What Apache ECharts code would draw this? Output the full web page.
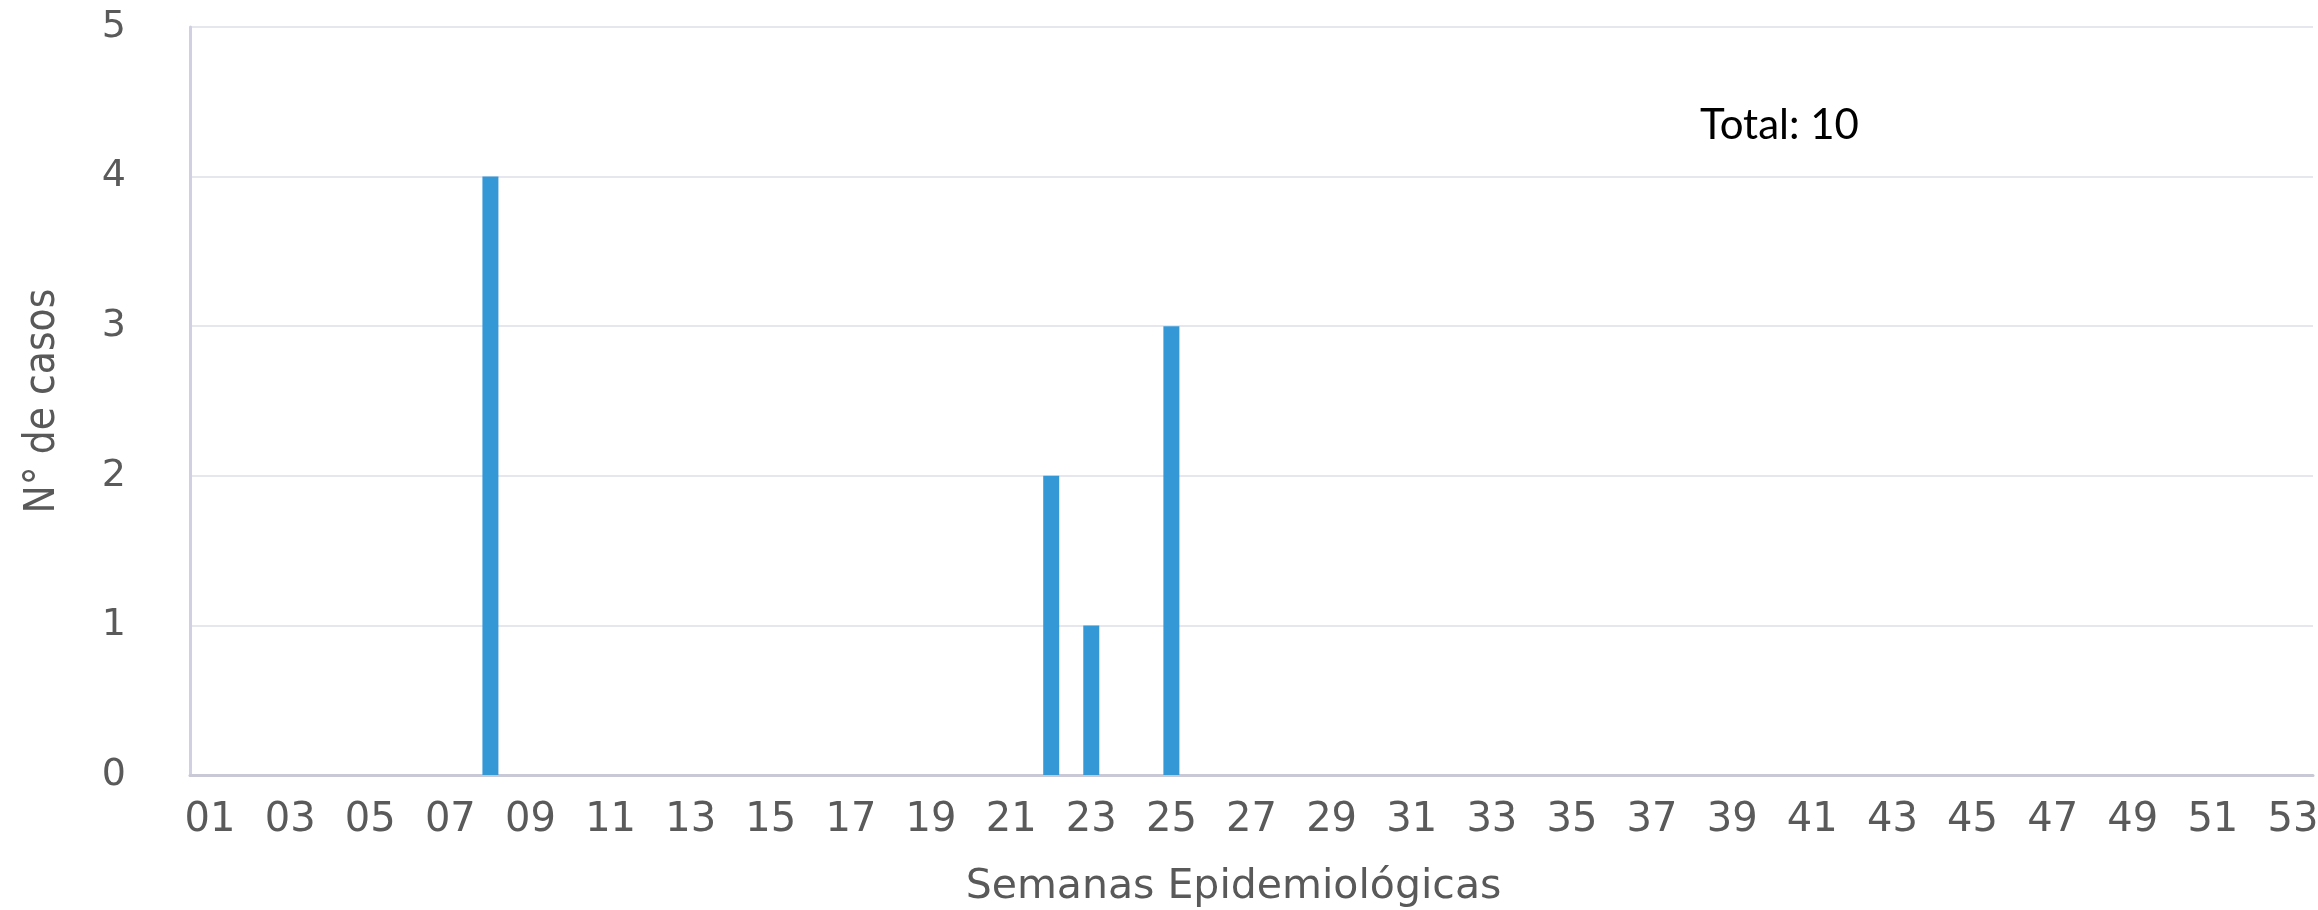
<!DOCTYPE html>
<html>
<head>
<meta charset="utf-8">
<script src="https://cdn.jsdelivr.net/npm/echarts@6/dist/echarts.min.js"></script>
<style>
  html, body { margin: 0; padding: 0; background: #fff; }
  #chart { width: 2318px; height: 910px; }
</style>
</head>
<body>
<div id="chart"></div>
<script>
// semanas epidemiológicas (eixo x)
const semanas = ['01','02','03','04','05','06','07','08','09','10',
  '11','12','13','14','15','16','17','18','19','20',
  '21','22','23','24','25','26','27','28','29','30',
  '31','32','33','34','35','36','37','38','39','40',
  '41','42','43','44','45','46','47','48','49','50',
  '51','52','53']
// nº de casos por semana
const casos = [0,0,0,0,0,0,0,4,0,0,
  0,0,0,0,0,0,0,0,0,0,
  0,2,1,0,3,0,0,0,0,0,
  0,0,0,0,0,0,0,0,0,0,
  0,0,0,0,0,0,0,0,0,0,
  0,0,0]
const totalTexto = 'Total: 10'

const chart = echarts.init(document.getElementById('chart'))
chart.setOption({
  animation: false,
  grid: { left: 190, right: 5, top: 27, bottom: 135, outerBoundsMode: 'none' },
  graphic: [{
    type: 'text', left: 1700, top: 104,
    style: { text: totalTexto, font: '42px Lato', fill: '#000' }
  }],
  xAxis: {
    type: 'category',
    data: semanas,
    name: 'Semanas Epidemiológicas',
    nameLocation: 'middle',
    nameGap: 92,
    nameTextStyle: { fontFamily: 'DejaVu Sans', fontSize: 41, color: '#595959', padding: [0, 36, 0, 0] },
    axisLine: { lineStyle: { color: '#c8c8d6', width: 3 } },
    axisTick: { show: false },
    axisLabel: { interval: 1, margin: 26, fontFamily: 'DejaVu Sans', fontSize: 40, color: '#5a5a5a' }
  },
  yAxis: {
    type: 'value',
    min: 0, max: 5, interval: 1,
    name: 'N° de casos',
    nameLocation: 'middle',
    nameGap: 126,
    nameTextStyle: { fontFamily: 'DejaVu Sans Condensed', fontSize: 42, color: '#595959' },
    axisLine: { show: true, lineStyle: { color: '#d0d0e2', width: 3 } },
    axisTick: { show: false },
    splitLine: { lineStyle: { color: '#e6e6ee', width: 2 } },
    axisLabel: { margin: 64, fontFamily: 'DejaVu Sans', fontSize: 38, color: '#5a5a5a' }
  },
  series: [{
    type: 'bar',
    data: casos,
    barWidth: 16,
    itemStyle: { color: '#3598d6' }
  }]
})
</script>
</body>
</html>
